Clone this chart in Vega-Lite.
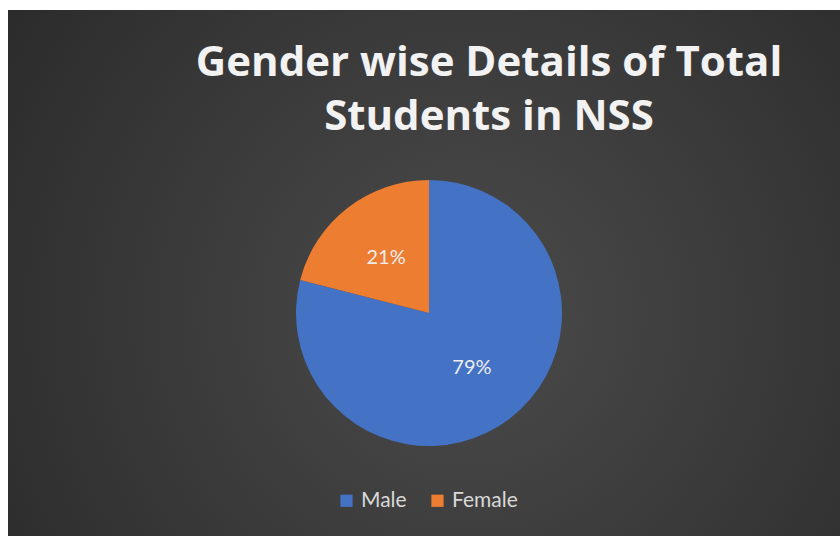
{
  "$schema": "https://vega.github.io/schema/vega-lite/v6.json",
  "width": 840,
  "height": 536,
  "autosize": {"type": "fit", "contains": "padding"},
  "padding": {"left": 8, "top": 10, "right": 0, "bottom": 0},
  "background": "#ffffff",
  "config": {"view": {"stroke": null}},
  "title": {
    "text": ["Gender wise Details of Total", "Students in NSS"],
    "orient": "top",
    "anchor": "middle",
    "offset": -129,
    "dx": 65,
    "font": "Open Sans",
    "fontSize": 42,
    "fontWeight": "bold",
    "color": "#F2F2F2",
    "lineHeight": 54
  },
  "data": {
    "values": [
      {"gender": "Male", "share": 0.79},
      {"gender": "Female", "share": 0.21}
    ]
  },
  "layer": [
    {
      "data": {"values": [{}]},
      "mark": {
        "type": "rect",
        "fill": {
          "gradient": "radial",
          "x1": 0.55, "y1": 0.55, "x2": 0.55, "y2": 0.55,
          "r1": 0, "r2": 0.75,
          "stops": [
            {"offset": 0, "color": "#4b4b4b"},
            {"offset": 1, "color": "#272727"}
          ]
        }
      },
      "encoding": {}
    },
    {
      "mark": {"type": "arc", "outerRadius": 133, "xOffset": 5, "yOffset": 40},
      "encoding": {
        "theta": {"field": "share", "type": "quantitative", "stack": true},
        "order": {"field": "share", "sort": "descending"},
        "color": {
          "field": "gender",
          "type": "nominal",
          "scale": {"domain": ["Male", "Female"], "range": ["#4472C4", "#ED7D31"]},
          "legend": {
            "orient": "none",
            "legendX": 328,
            "legendY": 480,
            "direction": "horizontal",
            "symbolType": "square",
            "symbolSize": 150,
            "symbolStrokeWidth": 0,
            "labelFont": "Lato",
            "labelFontSize": 21,
            "labelColor": "#D9D9D9",
            "columnPadding": 20,
            "title": null
          }
        }
      }
    },
    {
      "mark": {"type": "text", "radius": 70, "xOffset": 5, "yOffset": 40, "font": "Lato", "fontSize": 20, "fill": "#EDEDED"},
      "encoding": {
        "theta": {"field": "share", "type": "quantitative", "stack": true},
        "order": {"field": "share", "sort": "descending"},
        "text": {"field": "share", "type": "quantitative", "format": ".0%"}
      }
    }
  ]
}
